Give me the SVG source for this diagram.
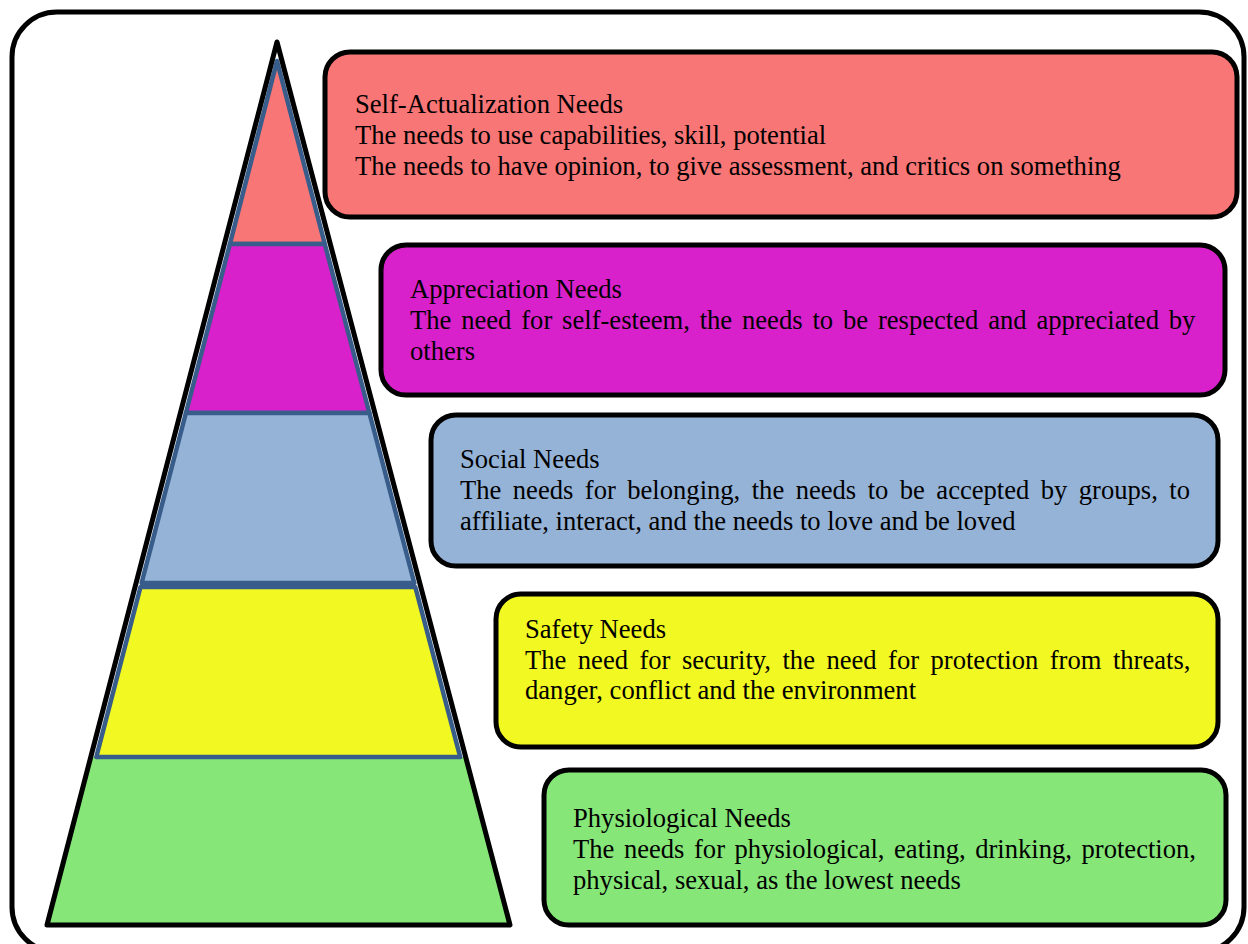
<svg xmlns="http://www.w3.org/2000/svg" width="1248" height="944" viewBox="0 0 1248 944">
<style>
.frame{fill:#fff;stroke:#000;stroke-width:5}
.box{stroke:#000;stroke-width:5}
.lay{stroke:#385D8A;stroke-width:4.5;stroke-linejoin:round}
.outline{fill:none;stroke:#000;stroke-width:5;stroke-linejoin:round}
text{font-family:"Liberation Serif","Times New Roman",serif;font-size:26.6px;fill:#000}
</style>
<rect class="frame" x="12" y="12" width="1232" height="940" rx="45" ry="45"/>
<g id="pyramid">
<polygon points="90.8,757 465.7,757 510,925 47,925" fill="#86E678"/>
<polygon id="layer-self" class="lay" fill="#F87676" points="277,61 324.8,244 229.9,244"/>
<polygon id="layer-appreciation" class="lay" fill="#D921CB" points="229.9,244 324.8,244 369.4,413 185.9,413"/>
<polygon id="layer-social" class="lay" fill="#95B3D7" points="185.9,413 369.4,413 414.3,583 141.6,583"/>
<polygon id="layer-safety" class="lay" fill="#F2F821" points="140.5,587 415.3,587 460.2,757 96.3,757"/>
<polygon class="outline" points="277,42 510,925 47,925"/>
</g>
<g id="connectors"></g>
<g id="node-self">
<rect class="box" x="325" y="52" width="912" height="165" rx="25" fill="#F87676"/>
<text x="355" y="112.5">Self-Actualization Needs</text>
<text x="355" y="143.5">The needs to use capabilities, skill, potential</text>
<text x="355" y="174.5">The needs to have opinion, to give assessment, and critics on something</text>
</g>
<g id="node-appreciation">
<rect class="box" x="381" y="245" width="844" height="150" rx="25" fill="#D921CB"/>
<text x="410" y="298">Appreciation Needs</text>
<text x="410" y="329" word-spacing="3.2">The need for self-esteem, the needs to be respected and appreciated by</text>
<text x="410" y="359.5">others</text>
</g>
<g id="node-social">
<rect class="box" x="431" y="415" width="787" height="151" rx="25" fill="#95B3D7"/>
<text x="460" y="468">Social Needs</text>
<text x="460" y="499" word-spacing="4.8">The needs for belonging, the needs to be accepted by groups, to</text>
<text x="460" y="529.5">affiliate, interact, and the needs to love and be loved</text>
</g>
<g id="node-safety">
<rect class="box" x="496" y="594" width="722" height="153" rx="25" fill="#F2F821"/>
<text x="525" y="638">Safety Needs</text>
<text x="525" y="668.5" word-spacing="4.8">The need for security, the need for protection from threats,</text>
<text x="525" y="698.5">danger, conflict and the environment</text>
</g>
<g id="node-physiological">
<rect class="box" x="544" y="770" width="682" height="155" rx="25" fill="#86E678"/>
<text x="573" y="827">Physiological Needs</text>
<text x="573" y="858" word-spacing="2.9">The needs for physiological, eating, drinking, protection,</text>
<text x="573" y="888.5">physical, sexual, as the lowest needs</text>
</g>
</svg>
